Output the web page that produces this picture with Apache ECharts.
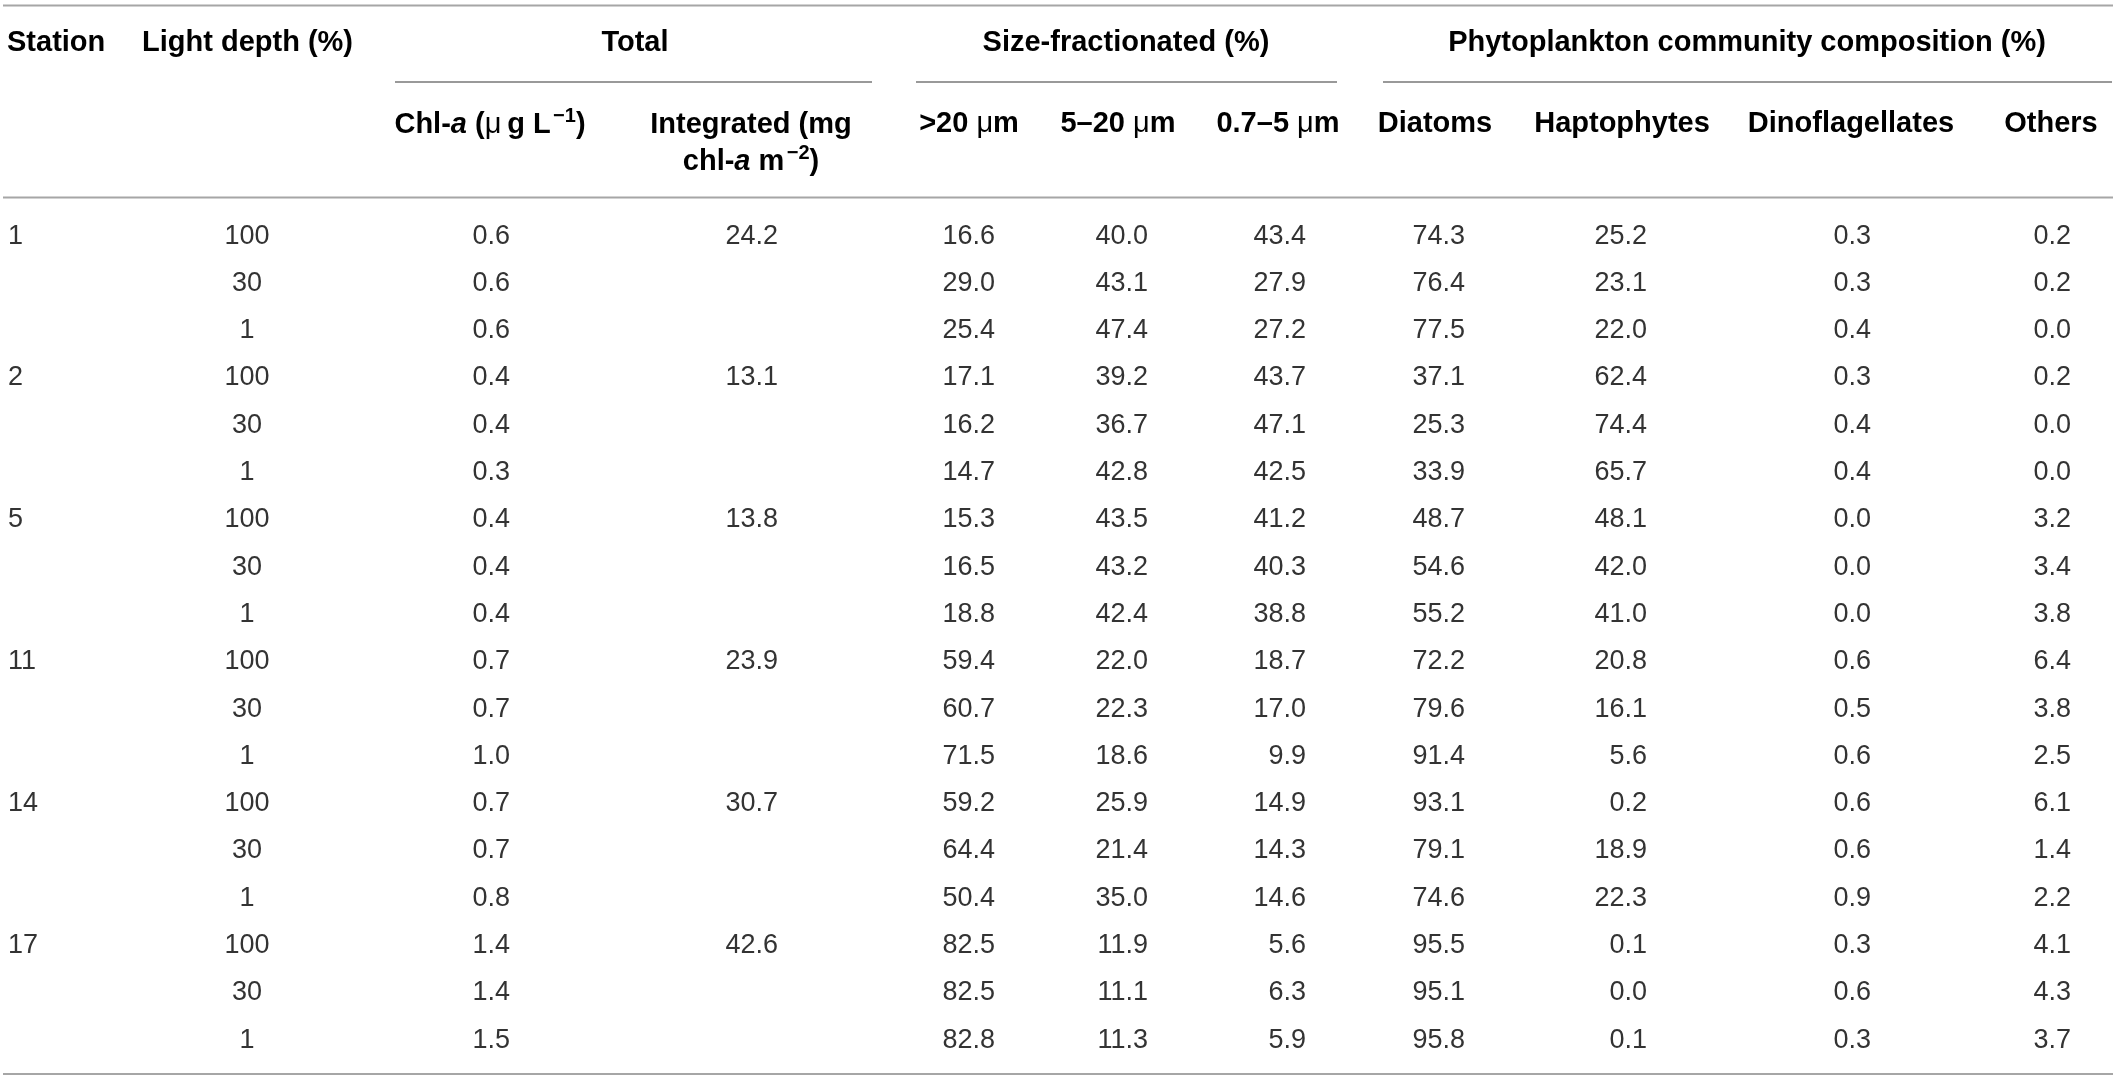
<!DOCTYPE html>
<html>
<head>
<meta charset="utf-8">
<title>Phytoplankton table</title>
<script src="https://cdn.jsdelivr.net/npm/echarts@6/dist/echarts.min.js"></script>
<style>
  html, body { margin: 0; padding: 0; background: #fff; }
  #main { width: 2117px; height: 1079px; }
</style>
</head>
<body>
<div id="main"></div>
<script>
// table data, one value per row (18 rows = 6 stations x 3 light depths)
var stations = ['1', '2', '5', '11', '14', '17'];
var lightDepths = ['100', '30', '1'];
var integrated = [24.2, 13.1, 13.8, 23.9, 30.7, 42.6]; // one per station
var chlA = [0.6, 0.6, 0.6, 0.4, 0.4, 0.3, 0.4, 0.4, 0.4, 0.7, 0.7, 1.0, 0.7, 0.7, 0.8, 1.4, 1.4, 1.5];
var sizeGt20 = [16.6, 29.0, 25.4, 17.1, 16.2, 14.7, 15.3, 16.5, 18.8, 59.4, 60.7, 71.5, 59.2, 64.4, 50.4, 82.5, 82.5, 82.8];
var size5to20 = [40.0, 43.1, 47.4, 39.2, 36.7, 42.8, 43.5, 43.2, 42.4, 22.0, 22.3, 18.6, 25.9, 21.4, 35.0, 11.9, 11.1, 11.3];
var size07to5 = [43.4, 27.9, 27.2, 43.7, 47.1, 42.5, 41.2, 40.3, 38.8, 18.7, 17.0, 9.9, 14.9, 14.3, 14.6, 5.6, 6.3, 5.9];
var diatoms = [74.3, 76.4, 77.5, 37.1, 25.3, 33.9, 48.7, 54.6, 55.2, 72.2, 79.6, 91.4, 93.1, 79.1, 74.6, 95.5, 95.1, 95.8];
var haptophytes = [25.2, 23.1, 22.0, 62.4, 74.4, 65.7, 48.1, 42.0, 41.0, 20.8, 16.1, 5.6, 0.2, 18.9, 22.3, 0.1, 0.0, 0.1];
var dinoflagellates = [0.3, 0.3, 0.4, 0.3, 0.4, 0.4, 0.0, 0.0, 0.0, 0.6, 0.5, 0.6, 0.6, 0.6, 0.9, 0.3, 0.6, 0.3];
var others = [0.2, 0.2, 0.0, 0.2, 0.0, 0.0, 3.2, 3.4, 3.8, 6.4, 3.8, 2.5, 6.1, 1.4, 2.2, 4.1, 4.3, 3.7];

// layout: x anchor of each column and how its text hangs on it
var COL_X = [8, 247, 510, 778, 995, 1148, 1306, 1465, 1647, 1871, 2071];
var COL_ALIGN = ['left', 'center', 'right', 'right', 'right', 'right', 'right', 'right', 'right', 'right', 'right'];

var FONT = '"Liberation Sans", Arial, Helvetica, sans-serif';
var HEAD_COLOR = '#231f20';
var BODY_COLOR = '#333';
var LINE_COLOR = '#a6a6a6';

function fmt(v) { return v.toFixed(1); }

// build row keys and cell texts
var rowKeys = [];
var cells = [];
stations.forEach(function (st, s) {
  lightDepths.forEach(function (ld, d) {
    var r = s * 3 + d;
    rowKeys.push(st + '-' + ld);
    var row = [
      d === 0 ? st : '',
      ld,
      fmt(chlA[r]),
      d === 0 ? fmt(integrated[s]) : '',
      fmt(sizeGt20[r]),
      fmt(size5to20[r]),
      fmt(size07to5[r]),
      fmt(diatoms[r]),
      fmt(haptophytes[r]),
      fmt(dinoflagellates[r]),
      fmt(others[r])
    ];
    row.forEach(function (t, c) {
      if (t !== '') cells.push([c, r, t]);
    });
  });
});

var cellData = cells.map(function (c) { return [c[0], c[1]]; });

function renderCell(params, api) {
  var c = api.value(0);
  var r = api.value(1);
  var pt = api.coord([COL_X[c], r]);
  return {
    type: 'text',
    x: pt[0],
    y: pt[1],
    style: {
      text: cells[params.dataIndex][2],
      fill: BODY_COLOR,
      font: '27px ' + FONT,
      align: COL_ALIGN[c],
      verticalAlign: 'middle'
    }
  };
}

var headRich = {
  b: { fontFamily: FONT, fontSize: 29, fontWeight: 'bold', color: HEAD_COLOR, lineHeight: 37 },
  i: { fontFamily: FONT, fontSize: 29, fontWeight: 'bold', fontStyle: 'italic', color: HEAD_COLOR, lineHeight: 37 },
  mu: { fontFamily: FONT, fontSize: 29, fontWeight: 'normal', color: HEAD_COLOR, lineHeight: 37 },
  sup: { fontFamily: FONT, fontSize: 20, fontWeight: 'bold', color: HEAD_COLOR, lineHeight: 10, verticalAlign: 'top' }
};

function headText(x, y, text) {
  return {
    type: 'text',
    x: x,
    y: y,
    style: {
      text: text,
      rich: headRich,
      align: 'center',
      verticalAlign: 'middle'
    }
  };
}

function hLine(x1, x2, y, color, w) {
  return {
    type: 'line',
    shape: { x1: x1, y1: y, x2: x2, y2: y },
    style: { stroke: color, lineWidth: w }
  };
}

var headers = [
  {
    type: 'text', x: 7, y: 43,
    style: { text: '{b|Station}', rich: headRich, align: 'left', verticalAlign: 'middle' }
  },
  {
    type: 'text', x: 142, y: 43,
    style: { text: '{b|Light depth (%)}', rich: headRich, align: 'left', verticalAlign: 'middle' }
  },
  headText(635, 43, '{b|Total}'),
  headText(1126, 43, '{b|Size-fractionated (%)}'),
  headText(1747, 43, '{b|Phytoplankton community composition (%)}'),
  headText(490, 125, '{b|Chl-}{i|a}{b| (}{mu|μ\u2009}{b|g L}{mu|\u200a}{sup|−1}{b|)}'),
  headText(751, 143, '{b|Integrated (mg}\n{b|chl-}{i|a}{b| m}{mu|\u200a}{sup|−2}{b|)}'),
  headText(969, 124, '{b|>20 }{mu|μ}{b|m}'),
  headText(1118, 124, '{b|5–20 }{mu|μ}{b|m}'),
  headText(1278, 124, '{b|0.7–5 }{mu|μ}{b|m}'),
  headText(1435, 124, '{b|Diatoms}'),
  headText(1622, 124, '{b|Haptophytes}'),
  headText(1851, 124, '{b|Dinoflagellates}'),
  headText(2051, 124, '{b|Others}')
];

var rules = [
  hLine(3, 2113, 5.5, LINE_COLOR, 2),
  hLine(395, 872, 82, '#777', 1.5),
  hLine(916, 1337, 82, '#777', 1.5),
  hLine(1383, 2112, 82, '#777', 1.5),
  hLine(3, 2113, 197.5, LINE_COLOR, 2),
  hLine(3, 2113, 1074, LINE_COLOR, 2)
];

var chart = echarts.init(document.getElementById('main'), null, { renderer: 'canvas' });
var option = {
  backgroundColor: '#fff',
  animation: false,
  grid: { left: 0, right: 0, top: 212.4, bottom: 15.2 },
  xAxis: { type: 'value', min: 0, max: 2117, show: false },
  yAxis: { type: 'category', data: rowKeys, inverse: true, show: false },
  graphic: { elements: rules.concat(headers) },
  series: [{
    type: 'custom',
    coordinateSystem: 'cartesian2d',
    renderItem: renderCell,
    data: cellData,
    silent: true
  }]
};
chart.setOption(option);
</script>
</body>
</html>
